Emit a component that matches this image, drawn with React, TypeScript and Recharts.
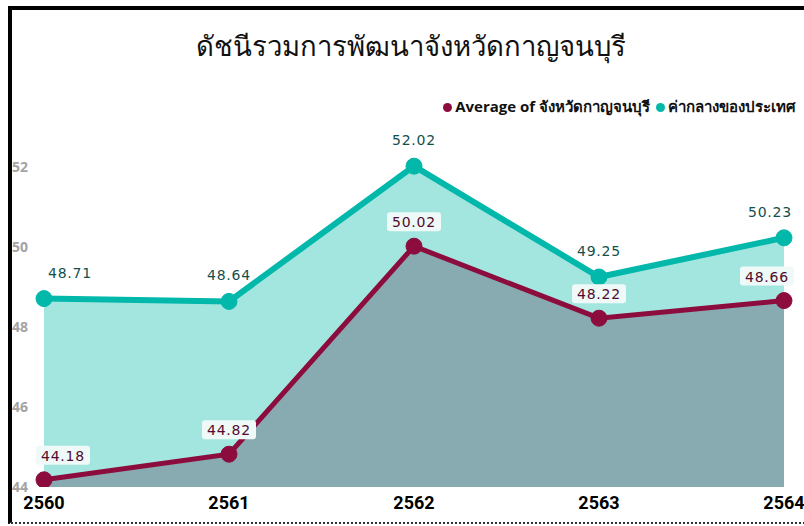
import React from 'react'
import { AreaChart, Area, XAxis, YAxis, LabelList } from 'recharts'

const years = ['2560', '2561', '2562', '2563', '2564']
const kanchanaburi = [44.18, 44.82, 50.02, 48.22, 48.66]
const national = [48.71, 48.64, 52.02, 49.25, 50.23]
const yTicks = [44, 46, 48, 50, 52]

const data = years.map((year, i) => ({
  year,
  kanchanaburi: kanchanaburi[i],
  national: national[i],
}))

const TEAL = '#01b8aa'
const MAROON = '#8c0c3e'

// keep labels on the first / last point inside the plot, like the original
const shiftX = (index: number, first: number, last: number) =>
  index === 0 ? first : index === years.length - 1 ? last : 0

const YTick = ({ y, payload }: any) => (
  <text x={12} y={y} dy={5} textAnchor="start" fill="#a3a3a3" fontSize={14} fontWeight={700} fontFamily="'Open Sans', sans-serif">
    {payload.value}
  </text>
)

const XTick = ({ x, y, payload }: any) => (
  <text x={x} y={y} dy={14} textAnchor="middle" fill="#000" fontSize={18} fontWeight={700} fontFamily="Roboto, sans-serif">
    {payload.value}
  </text>
)

const NationalLabel = ({ x, y, value, index }: any) => (
  <text x={x + shiftX(index, 26, -14)} y={y - 21} textAnchor="middle" fill="#144f4c" fontSize={14} fontWeight={500} letterSpacing={0.8} fontFamily="'DejaVu Sans', sans-serif">
    {value.toFixed(2)}
  </text>
)

const ProvinceLabel = ({ x, y, value, index }: any) => {
  const cx = x + shiftX(index, 19, -17)
  return (
    <g>
      <rect x={cx - 27} y={y - 34} width={54} height={19} rx={3} fill="#eef9f8" />
      <text x={cx} y={y - 19} textAnchor="middle" fill="#530a2c" fontSize={14} letterSpacing={0.8} fontFamily="'DejaVu Sans', sans-serif">
        {value.toFixed(2)}
      </text>
    </g>
  )
}

export default function App() {
  return (
    <div style={{ position: 'fixed', left: 0, top: 0, width: 804, height: 526, overflow: 'hidden', background: '#fff' }}>
      <div
        style={{
          position: 'absolute', left: 8, top: 6, width: 820, height: 512,
          borderLeft: '4px solid #000', borderTop: '4px solid #000', borderBottom: '2px dotted #333',
        }}
      />
      <div
        style={{
          position: 'absolute', left: 0, top: 24, width: 822, textAlign: 'center',
          fontSize: 27.5, fontFamily: "'Noto Sans', sans-serif", color: '#111',
        }}
      >
        ดัชนีรวมการพัฒนาจังหวัดกาญจนบุรี
      </div>
      <div
        style={{
          position: 'absolute', right: 8, top: 95, display: 'flex', alignItems: 'center',
          fontSize: 15, fontWeight: 700, fontFamily: "'Open Sans', sans-serif", color: '#111', whiteSpace: 'nowrap',
        }}
      >
        <span style={{ width: 9, height: 9, borderRadius: '50%', background: MAROON, marginRight: 3 }} />
        <span style={{ marginRight: 6 }}>Average of จังหวัดกาญจนบุรี</span>
        <span style={{ width: 9, height: 9, borderRadius: '50%', background: TEAL, marginRight: 3 }} />
        <span>ค่ากลางของประเทศ</span>
      </div>
      <div style={{ position: 'absolute', left: 0, top: 0 }}>
        <AreaChart width={804} height={526} data={data} margin={{ top: 127, right: 20, left: 0, bottom: 9 }}>
          <XAxis dataKey="year" axisLine={false} tickLine={false} height={30} tick={<XTick />} interval={0} />
          <YAxis domain={[44, 53]} ticks={yTicks} axisLine={false} tickLine={false} width={44} tick={<YTick />} allowDataOverflow />
          <Area
            type="linear"
            dataKey="national"
            stroke={TEAL}
            strokeWidth={6}
            fill="#a3e6e0"
            fillOpacity={1}
            dot={{ r: 8, fill: TEAL, stroke: TEAL, strokeWidth: 1 }}
            activeDot={false}
            isAnimationActive={false}
          >
            <LabelList dataKey="national" content={<NationalLabel />} />
          </Area>
          <Area
            type="linear"
            dataKey="kanchanaburi"
            stroke={MAROON}
            strokeWidth={5}
            fill="#87abb1"
            fillOpacity={1}
            dot={{ r: 8, fill: MAROON, stroke: MAROON, strokeWidth: 1 }}
            activeDot={false}
            isAnimationActive={false}
          >
            <LabelList dataKey="kanchanaburi" content={<ProvinceLabel />} />
          </Area>
        </AreaChart>
      </div>
    </div>
  )
}
